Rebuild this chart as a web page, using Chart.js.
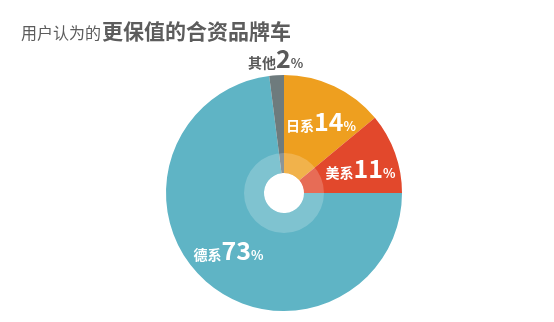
<!DOCTYPE html>
<html>
<head>
<meta charset="utf-8">
<script src="https://cdn.jsdelivr.net/npm/chart.js@4.4.1/dist/chart.umd.min.js"></script>
<style>
  html, body { margin: 0; padding: 0; background: #fff; }
  #wrap { width: 554px; height: 322px; }
</style>
</head>
<body>
<div id="wrap"><canvas id="c" width="554" height="322"></canvas></div>
<script>
// data
const categories = ['日系', '美系', '德系', '其他'];
const shares = [14, 11, 73, 2];
const sliceColors = ['#EE9F1F', '#E2482C', '#5FB4C5', '#6E7B7D'];
const titleLight = '用户认为的';
const titleBold = '更保值的合资品牌车';

const FONT = '"Noto Sans CJK SC", "Noto Sans", sans-serif';

// title: light part + bold part
const titlePlugin = {
  id: 'titleMix',
  beforeDraw(chart) {
    const ctx = chart.ctx;
    ctx.save();
    ctx.fillStyle = '#5c5c5c';
    ctx.textBaseline = 'alphabetic';
    ctx.font = '16px ' + FONT;
    ctx.fillText(titleLight, 21, 39);
    const w = ctx.measureText(titleLight).width;
    ctx.font = 'bold 21px ' + FONT;
    ctx.fillText(titleBold, 21 + w + 1, 39);
    ctx.restore();
  }
};

// light ring round the hole + slice labels
const slicePlugin = {
  id: 'sliceLabels',
  afterDatasetsDraw(chart) {
    const ctx = chart.ctx;
    const arcs = chart.getDatasetMeta(0).data;
    if (!arcs.length) return;
    const a0 = arcs[0];
    ctx.save();
    ctx.fillStyle = 'rgba(255,255,255,0.2)';
    ctx.beginPath();
    ctx.arc(a0.x, a0.y, a0.innerRadius * 2, 0, Math.PI * 2);
    ctx.arc(a0.x, a0.y, a0.innerRadius, 0, Math.PI * 2, true);
    ctx.fill();

    arcs.forEach((arc, i) => {
      const outside = shares[i] < 5;
      const mid = (arc.startAngle + arc.endAngle) / 2 + (outside ? 0 : 0.04);
      const r = outside ? arc.outerRadius + 16 : arc.outerRadius * 0.68;
      const px = arc.x + Math.cos(mid) * r;
      const py = arc.y + Math.sin(mid) * r;
      const parts = [
        { t: categories[i], f: 'bold 14px ' + FONT },
        { t: String(shares[i]), f: 'bold 25px ' + FONT },
        { t: '%', f: 'bold 13px ' + FONT }
      ];
      let total = 0;
      parts.forEach(p => { ctx.font = p.f; p.w = ctx.measureText(p.t).width; total += p.w; });
      let x = px - total / 2;
      ctx.fillStyle = outside ? '#5a5a5a' : '#ffffff';
      ctx.textBaseline = 'alphabetic';
      parts.forEach(p => {
        ctx.font = p.f;
        ctx.fillText(p.t, x, py + 9);
        x += p.w;
      });
    });
    ctx.restore();
  }
};

new Chart(document.getElementById('c'), {
  type: 'doughnut',
  data: {
    labels: categories,
    datasets: [{
      data: shares,
      backgroundColor: sliceColors,
      borderWidth: 0
    }]
  },
  options: {
    responsive: false,
    animation: false,
    cutout: 20,
    layout: { padding: { top: 75, bottom: 11, left: 14, right: 0 } },
    plugins: {
      legend: { display: false },
      tooltip: { enabled: false }
    }
  },
  plugins: [titlePlugin, slicePlugin]
});
</script>
</body>
</html>
